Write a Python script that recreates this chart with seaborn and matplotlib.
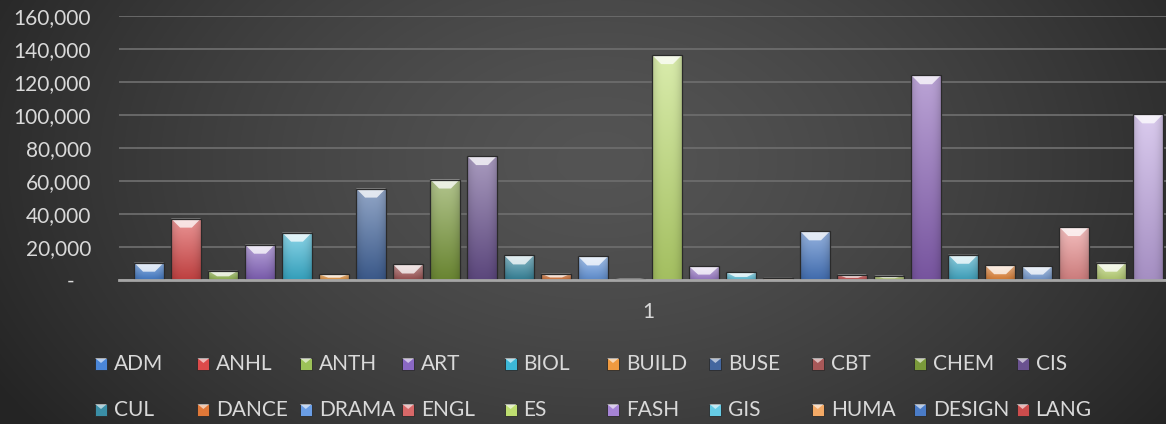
import numpy as np
import pandas as pd
import matplotlib
matplotlib.use("Agg")
import matplotlib.pyplot as plt
import seaborn as sns
from matplotlib.patches import Polygon, Rectangle
from matplotlib.ticker import FuncFormatter

# program codes (only the first 20 are visible in the legend)
programs = ["ADM", "ANHL", "ANTH", "ART", "BIOL", "BUILD", "BUSE", "CBT", "CHEM", "CIS",
            "CUL", "DANCE", "DRAMA", "ENGL", "ES", "FASH", "GIS", "HUMA", "DESIGN", "LANG",
            "P21", "P22", "P23", "P24", "P25", "P26", "P27", "P28"]
enrollment = [10500, 37200, 5600, 21400, 28700, 3500, 55400, 9400, 60900, 75100,
              14900, 3800, 14300, 900, 136300, 8200, 4600, 1300, 29500, 3300,
              2700, 124100, 15300, 8800, 8200, 32100, 10500, 100400]
bar_colors = ["#4a86d8", "#dc4a4a", "#9cc258", "#8a68c4", "#3cb8d8", "#f09a40",
              "#44679f", "#a85858", "#7a9a3a", "#6a5290", "#3a8ea6", "#e07838",
              "#6a9ee6", "#d86868", "#bede70", "#a684d6", "#66cce6", "#f4aa66",
              "#4a7cc8", "#cc4c4c", "#b4cc6c", "#8a62b8", "#46b4d2", "#ee8a3a",
              "#7ea6e0", "#ec9090", "#c4de7c", "#c0a6e2"]
y_ticks = [0, 20000, 40000, 60000, 80000, 100000, 120000, 140000, 160000]
category_label = "1"

sns.set_theme(style="dark")
plt.rcParams["font.family"] = ["Lato", "DejaVu Sans"]
text_color = "#d9d9d9"
fs = 15

W, H = 1166, 424
fig = plt.figure(figsize=(W / 100, H / 100), dpi=100)

# dark radial background like the Excel chart style
bg = fig.add_axes([0, 0, 1, 1], zorder=0)
yy, xx = np.mgrid[0:H, 0:W]
r = np.clip(np.sqrt(((xx - 600) / 700.0) ** 2 + ((yy - 160) / 460.0) ** 2), 0, 1)
c_in, c_out = 0x54 / 255, 0x24 / 255
img = c_in + (c_out - c_in) * r ** 1.4
bg.imshow(np.dstack([img, img, img]), aspect="auto", extent=(0, 1, 0, 1), origin="upper")
bg.set_xlim(0, 1)
bg.set_ylim(0, 1)
bg.axis("off")

ax = fig.add_axes([119 / W, 144 / H, (1177 - 119) / W, 264 / H], zorder=1)
ax.patch.set_alpha(0)

df = pd.DataFrame({"program": programs, "enrollment": enrollment})
sns.barplot(data=df, x="program", y="enrollment", hue="program", palette=bar_colors,
            legend=False, width=0.8, saturation=1, edgecolor="#2a2a2a", linewidth=0.9, ax=ax)

ymax = y_ticks[-1]
upp = ymax / 264.0  # data units per pixel

# glossy gradient + bevel on each bar
for p in list(ax.patches):
    x0, y0 = p.get_xy()
    w, h = p.get_width(), p.get_height()
    if h <= 0:
        continue
    base = np.array(p.get_facecolor()[:3])
    top = base + (1 - base) * 0.42
    bottom = base * 0.86
    t = np.linspace(0, 1, 80)[:, None, None]
    u = np.linspace(0, 1, 20)[None, :, None]
    grad = top * (1 - t) + bottom * t
    grad = grad * (1 - 0.14 * np.abs(2 * u - 1) ** 3)
    grad = np.clip(grad, 0, 1)
    im = ax.imshow(grad, extent=(x0, x0 + w, y0, y0 + h), origin="upper",
                   aspect="auto", zorder=p.get_zorder() + 0.1, interpolation="bilinear")
    im.set_clip_path(p)
    d = min(9 * upp, 0.6 * h)
    bevel = Polygon([(x0, y0 + h), (x0 + w, y0 + h), (x0 + 0.7 * w, y0 + h - d),
                     (x0 + 0.3 * w, y0 + h - d)], closed=True, facecolor="white",
                    alpha=0.75, lw=0, zorder=p.get_zorder() + 0.2)
    ax.add_patch(bevel)
    p.set_zorder(p.get_zorder() + 0.3)
    p.set_facecolor("none")

ax.set_ylim(0, ymax)
ax.set_xlim(-0.81, len(programs) - 1 + 0.78)
ax.set_yticks(y_ticks)
ax.yaxis.set_major_formatter(FuncFormatter(lambda v, pos: "-   " if v == 0 else f"{v:,.0f}"))
ax.set_xticks([(len(programs) - 1) / 2])
ax.set_xticklabels([category_label])
ax.tick_params(axis="y", length=0, pad=20, labelsize=fs, labelcolor=text_color)
ax.tick_params(axis="x", length=0, pad=16, labelsize=fs, labelcolor=text_color)
ax.set_xlabel("")
ax.set_ylabel("")
ax.yaxis.grid(True, color="#6c6c6c", lw=1.3)
ax.xaxis.grid(False)
ax.set_axisbelow(True)
for s in ["top", "right", "left"]:
    ax.spines[s].set_visible(False)
ax.spines["bottom"].set_color("#a6a6a6")
ax.spines["bottom"].set_linewidth(2)
ax.spines["bottom"].set_zorder(5)

# legend: 10 equal-width columns, first two rows visible
for i, name in enumerate(programs[:20]):
    col, row = i % 10, i // 10
    mx = 95 + col * 102.4
    my = 364 + row * 46
    fig.add_artist(Rectangle((mx / W, 1 - (my + 6) / H), 12 / W, 12 / H,
                             transform=fig.transFigure, facecolor=bar_colors[i],
                             edgecolor="#2a2a2a", lw=0.6))
    fig.add_artist(Polygon([(mx / W, 1 - (my - 6) / H), ((mx + 12) / W, 1 - (my - 6) / H),
                            ((mx + 6) / W, 1 - (my - 1) / H)], closed=True,
                           transform=fig.transFigure, facecolor="white", alpha=0.6, lw=0))
    fig.text((mx + 19) / W, 1 - my / H, name, color=text_color, fontsize=fs,
             va="center", ha="left")

fig.savefig("out.png", dpi=100)
